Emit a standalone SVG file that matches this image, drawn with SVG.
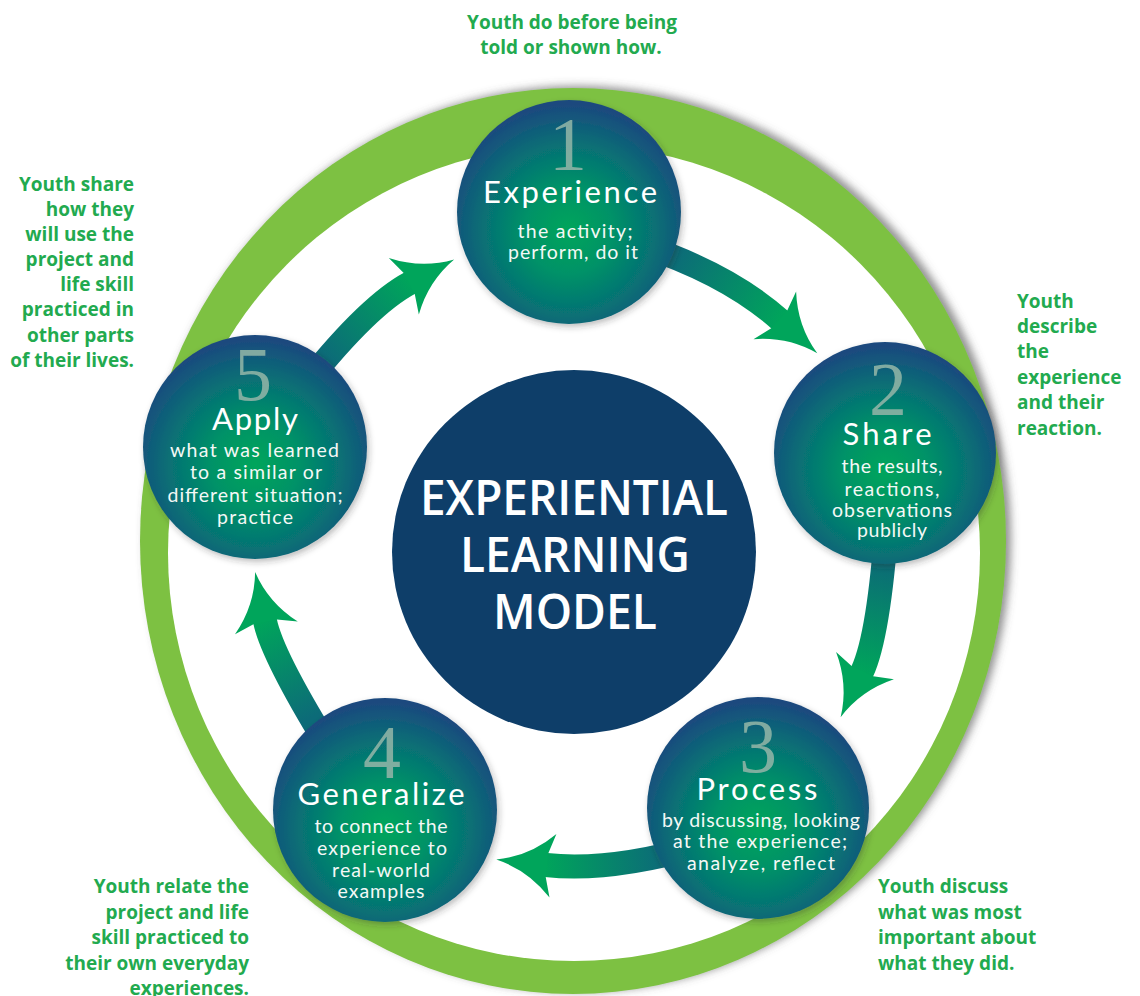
<svg xmlns="http://www.w3.org/2000/svg" xmlns:xlink="http://www.w3.org/1999/xlink" width="1140" height="996" viewBox="0 0 1140 996">
  <defs>
    <style>
      .note { font-family: "Open Sans", "Liberation Sans", sans-serif; font-weight: 700; font-size: 19px; fill: #22aa4f; }
      .core { font-family: "Open Sans", "Liberation Sans", sans-serif; font-weight: 600; font-size: 48px; fill: #ffffff; text-anchor: middle; }
      .num { font-family: "Liberation Serif", "DejaVu Serif", serif; font-size: 76px; fill: #8db2a5; fill-opacity: 0.9; text-anchor: middle; }
      .ttl { font-family: Lato, "Open Sans", sans-serif; font-size: 31px; fill: #ffffff; text-anchor: middle; }
      .sub { font-family: Lato, "Open Sans", sans-serif; font-size: 19.5px; fill: #f4f8f6; text-anchor: middle; }
      .band { fill: none; stroke-width: 24; stroke-linecap: butt; }
      .head { fill: #00a55b; }
      .step { fill: url(#stepFill); }
    </style>
    <radialGradient id="stepFill" cx="0.5" cy="0.58" r="0.56">
      <stop offset="0" stop-color="#00a55b"/>
      <stop offset="0.35" stop-color="#019267"/>
      <stop offset="0.72" stop-color="#086c76"/>
      <stop offset="1" stop-color="#1b4a7e"/>
    </radialGradient>
    <filter id="ringShadow" x="-10%" y="-10%" width="120%" height="120%">
      <feDropShadow dx="5" dy="-2" stdDeviation="4" flood-color="#555555" flood-opacity="0.65"/>
    </filter>
    <filter id="nodeShadow" x="-15%" y="-15%" width="130%" height="130%">
      <feDropShadow dx="2" dy="3" stdDeviation="3" flood-color="#333333" flood-opacity="0.3"/>
    </filter>
    <!-- arrowhead pointing along +x, tip at (50,0), concave swept sides -->
    <path id="arrowHead" d="M-1,-12 L-7,-32 Q17,-7 50,0 Q17,7 -7,32 L-1,12 Z"/>
    <linearGradient id="g12" gradientUnits="userSpaceOnUse" x1="674" y1="256" x2="780" y2="320">
      <stop offset="0" stop-color="#0c6b78"/><stop offset="1" stop-color="#00a45b"/>
    </linearGradient>
    <linearGradient id="g23" gradientUnits="userSpaceOnUse" x1="885" y1="555" x2="862" y2="672">
      <stop offset="0" stop-color="#0c6778"/><stop offset="1" stop-color="#00a45b"/>
    </linearGradient>
    <linearGradient id="g34" gradientUnits="userSpaceOnUse" x1="662" y1="857" x2="546" y2="865">
      <stop offset="0" stop-color="#0c6b78"/><stop offset="1" stop-color="#00a45b"/>
    </linearGradient>
    <linearGradient id="g45" gradientUnits="userSpaceOnUse" x1="312" y1="717" x2="265" y2="621">
      <stop offset="0" stop-color="#0c6b78"/><stop offset="1" stop-color="#00a45b"/>
    </linearGradient>
    <linearGradient id="g51" gradientUnits="userSpaceOnUse" x1="327" y1="358" x2="410" y2="283">
      <stop offset="0" stop-color="#0c6b78"/><stop offset="1" stop-color="#00a45b"/>
    </linearGradient>
  </defs>

  <rect width="1140" height="996" fill="#ffffff"/>

  <!-- outer green ring -->
  <g id="ring">
    <ellipse cx="573" cy="541" rx="433" ry="453" fill="#7dc143" filter="url(#ringShadow)"/>
    <ellipse cx="574" cy="553" rx="406" ry="408" fill="#ffffff"/>
  </g>

  <!-- cycle arrows -->
  <g id="connectors">
    <g id="arrow-1-2">
      <path class="band" stroke="url(#g12)" d="M641,245 Q728.5,274 780,320"/>
      <use href="#arrowHead" class="head" transform="translate(780,320) rotate(41.8)"/>
    </g>
    <g id="arrow-2-3">
      <path class="band" stroke="url(#g23)" d="M887,520 Q879,636 862,672"/>
      <use href="#arrowHead" class="head" transform="translate(862,672) rotate(115.3)"/>
    </g>
    <g id="arrow-3-4">
      <path class="band" stroke="url(#g34)" d="M700,846 Q610,872 546,865"/>
      <use href="#arrowHead" class="head" transform="translate(546,865) rotate(186.2)"/>
    </g>
    <g id="arrow-4-5">
      <path class="band" stroke="url(#g45)" d="M326,743 Q271.7,654.3 265,621"/>
      <use href="#arrowHead" class="head" transform="translate(265,621) rotate(-101.4)"/>
    </g>
    <g id="arrow-5-1">
      <path class="band" stroke="url(#g51)" d="M308,381 Q369.4,304.6 410,283"/>
      <use href="#arrowHead" class="head" transform="translate(410,283) rotate(-28)"/>
    </g>
  </g>

  <!-- centre -->
  <g id="model">
    <circle cx="574" cy="552" r="182" fill="#0e3e69"/>
    <text class="core" x="574" y="515" textLength="308" lengthAdjust="spacingAndGlyphs">EXPERIENTIAL</text>
    <text class="core" x="575" y="572" textLength="230" lengthAdjust="spacingAndGlyphs">LEARNING</text>
    <text class="core" x="575" y="629" textLength="164" lengthAdjust="spacingAndGlyphs">MODEL</text>
  </g>

  <!-- step 1 -->
  <g id="experience">
    <circle class="step" cx="569" cy="212" r="112" filter="url(#nodeShadow)"/>
    <text class="num" x="568" y="170">1</text>
    <text class="ttl" x="570" y="203" textLength="174">Experience</text>
    <text class="sub" x="575" y="238" textLength="115">the activity;</text>
    <text class="sub" x="573" y="259" textLength="130">perform, do it</text>
  </g>

  <!-- step 2 -->
  <g id="share">
    <circle class="step" cx="885" cy="453" r="111" filter="url(#nodeShadow)"/>
    <text class="num" x="888" y="415">2</text>
    <text class="ttl" x="887" y="445" textLength="89">Share</text>
    <text class="sub" x="892" y="473" textLength="101">the results,</text>
    <text class="sub" x="892" y="496" textLength="95">reactions,</text>
    <text class="sub" x="892" y="517" textLength="120">observations</text>
    <text class="sub" x="892" y="537" textLength="70">publicly</text>
  </g>

  <!-- step 3 -->
  <g id="process">
    <circle class="step" cx="758" cy="808" r="111" filter="url(#nodeShadow)"/>
    <text class="num" x="758" y="772">3</text>
    <text class="ttl" x="757" y="800" textLength="121">Process</text>
    <text class="sub" x="761" y="827" textLength="198">by discussing, looking</text>
    <text class="sub" x="760" y="848" textLength="174">at the experience;</text>
    <text class="sub" x="761" y="870" textLength="148">analyze, reflect</text>
  </g>

  <!-- step 4 -->
  <g id="generalize">
    <circle class="step" cx="385" cy="810" r="112" filter="url(#nodeShadow)"/>
    <text class="num" x="382" y="778">4</text>
    <text class="ttl" x="381" y="805" textLength="167">Generalize</text>
    <text class="sub" x="381" y="833" textLength="133">to connect the</text>
    <text class="sub" x="382" y="855" textLength="130">experience to</text>
    <text class="sub" x="381" y="877" textLength="98">real-world</text>
    <text class="sub" x="381" y="898" textLength="87">examples</text>
  </g>

  <!-- step 5 -->
  <g id="apply">
    <circle class="step" cx="255" cy="447" r="112" filter="url(#nodeShadow)"/>
    <text class="num" x="253" y="400">5</text>
    <text class="ttl" x="255" y="430" textLength="86">Apply</text>
    <text class="sub" x="254.5" y="457" textLength="169">what was learned</text>
    <text class="sub" x="256" y="479" textLength="132">to a similar or</text>
    <text class="sub" x="255" y="502" textLength="175">different situation;</text>
    <text class="sub" x="255" y="524" textLength="76">practice</text>
  </g>

  <!-- side notes -->
  <g id="note-experience">
    <text class="note" x="572" y="29" text-anchor="middle">Youth do before being</text>
    <text class="note" x="571" y="54" text-anchor="middle">told or shown how.</text>
  </g>
  <g id="note-share">
    <text class="note" x="1017" y="308">Youth</text>
    <text class="note" x="1017" y="333">describe</text>
    <text class="note" x="1017" y="358">the</text>
    <text class="note" x="1017" y="384">experience</text>
    <text class="note" x="1017" y="409">and their</text>
    <text class="note" x="1017" y="435">reaction.</text>
  </g>
  <g id="note-process">
    <text class="note" x="878" y="893">Youth discuss</text>
    <text class="note" x="878" y="919">what was most</text>
    <text class="note" x="878" y="944">important about</text>
    <text class="note" x="878" y="970">what they did.</text>
  </g>
  <g id="note-generalize" text-anchor="end">
    <text class="note" x="249" y="893">Youth relate the</text>
    <text class="note" x="249" y="919">project and life</text>
    <text class="note" x="249" y="944">skill practiced to</text>
    <text class="note" x="249" y="970">their own everyday</text>
    <text class="note" x="249" y="995">experiences.</text>
  </g>
  <g id="note-apply" text-anchor="end">
    <text class="note" x="134" y="191">Youth share</text>
    <text class="note" x="134" y="216">how they</text>
    <text class="note" x="134" y="241">will use the</text>
    <text class="note" x="134" y="266">project and</text>
    <text class="note" x="134" y="291">life skill</text>
    <text class="note" x="134" y="316">practiced in</text>
    <text class="note" x="134" y="342">other parts</text>
    <text class="note" x="134" y="367">of their lives.</text>
  </g>
</svg>
